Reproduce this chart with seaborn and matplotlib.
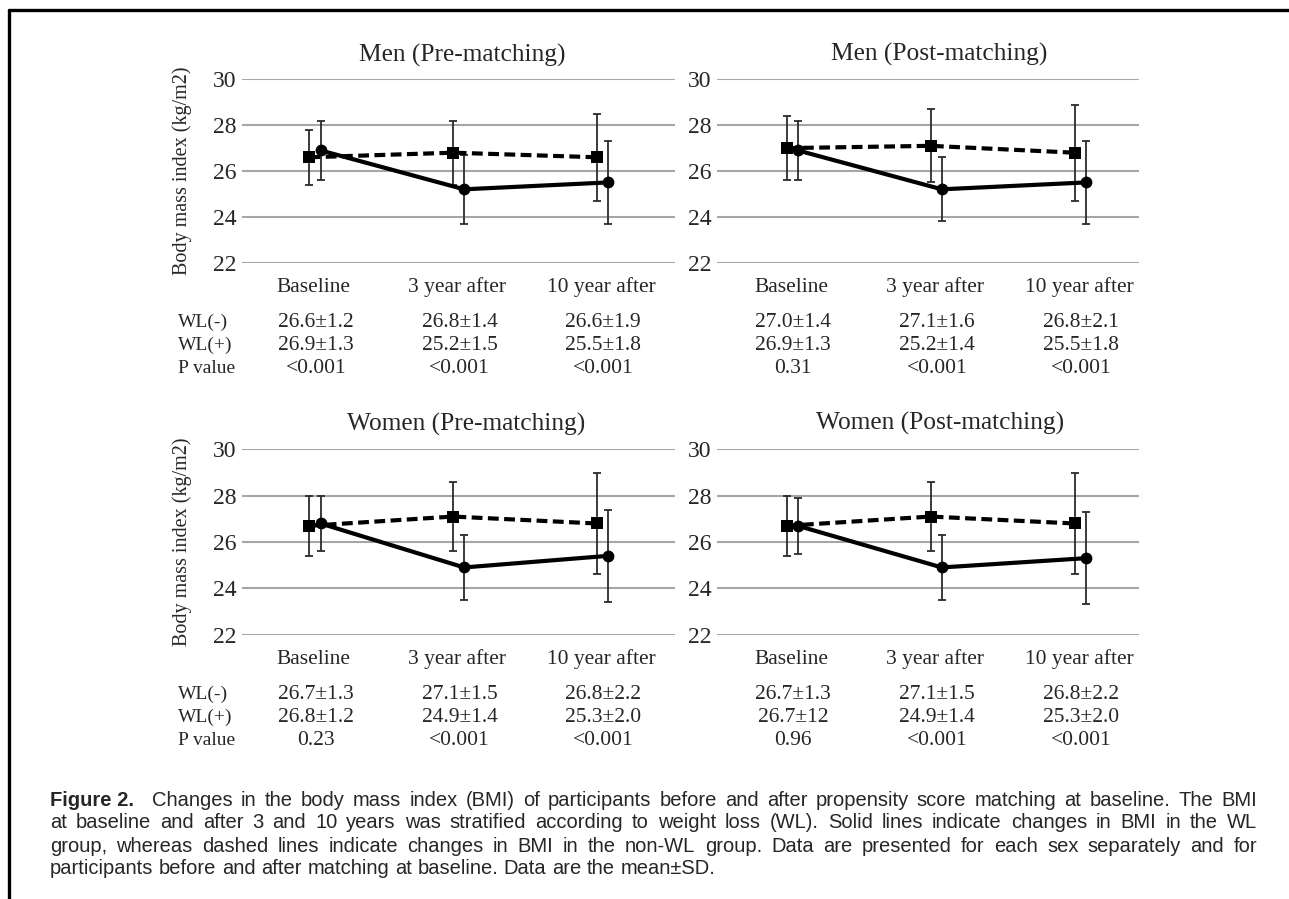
import numpy as np
import pandas as pd
import matplotlib
matplotlib.use("Agg")
import matplotlib.pyplot as plt
import seaborn as sns
from matplotlib import transforms
from matplotlib.lines import Line2D

# ---------------- data ----------------
categories = ["Baseline", "3 year after", "10 year after"]
yticks = [22, 24, 26, 28, 30]
panel_titles = ["Men (Pre-matching)", "Men (Post-matching)",
                "Women (Pre-matching)", "Women (Post-matching)"]
row_labels = ["WL(-)", "WL(+)", "P value"]

# WL(-) = dashed / squares, WL(+) = solid / circles
men_pre_neg_mean = [26.6, 26.8, 26.6]
men_pre_neg_sd = [1.2, 1.4, 1.9]
men_pre_pos_mean = [26.9, 25.2, 25.5]
men_pre_pos_sd = [1.3, 1.5, 1.8]

men_post_neg_mean = [27.0, 27.1, 26.8]
men_post_neg_sd = [1.4, 1.6, 2.1]
men_post_pos_mean = [26.9, 25.2, 25.5]
men_post_pos_sd = [1.3, 1.4, 1.8]

women_pre_neg_mean = [26.7, 27.1, 26.8]
women_pre_neg_sd = [1.3, 1.5, 2.2]
women_pre_pos_mean = [26.8, 24.9, 25.4]
women_pre_pos_sd = [1.2, 1.4, 2.0]

women_post_neg_mean = [26.7, 27.1, 26.8]
women_post_neg_sd = [1.3, 1.5, 2.2]
women_post_pos_mean = [26.7, 24.9, 25.3]
women_post_pos_sd = [1.2, 1.4, 2.0]

men_pre_table = [["26.6±1.2", "26.8±1.4", "26.6±1.9"],
                 ["26.9±1.3", "25.2±1.5", "25.5±1.8"],
                 ["<0.001", "<0.001", "<0.001"]]
men_post_table = [["27.0±1.4", "27.1±1.6", "26.8±2.1"],
                  ["26.9±1.3", "25.2±1.4", "25.5±1.8"],
                  ["0.31", "<0.001", "<0.001"]]
women_pre_table = [["26.7±1.3", "27.1±1.5", "26.8±2.2"],
                   ["26.8±1.2", "24.9±1.4", "25.3±2.0"],
                   ["0.23", "<0.001", "<0.001"]]
women_post_table = [["26.7±1.3", "27.1±1.5", "26.8±2.2"],
                    ["26.7±12", "24.9±1.4", "25.3±2.0"],
                    ["0.96", "<0.001", "<0.001"]]

caption_bold = "Figure 2."
caption_lines = [
    "Changes in the body mass index (BMI) of participants before and after propensity score matching at baseline. The BMI",
    "at baseline and after 3 and 10 years was stratified according to weight loss (WL). Solid lines indicate changes in BMI in the WL",
    "group, whereas dashed lines indicate changes in BMI in the non-WL group. Data are presented for each sex separately and for",
    "participants before and after matching at baseline. Data are the mean\u00b1SD.",
]

# ---------------- style ----------------
sns.set_theme(style="white")
SERIF = ["Liberation Serif", "DejaVu Serif"]
SANS = ["Liberation Sans", "DejaVu Sans"]
plt.rcParams["font.family"] = SERIF

W, H = 1289, 899
fig = plt.figure(figsize=(W / 100, H / 100), dpi=100)
fig.patch.set_facecolor("white")


def px_rect(x0, x1, ytop, ybot):
    return [x0 / W, 1 - ybot / H, (x1 - x0) / W, (ybot - ytop) / H]


SQ_OFF, CI_OFF = -0.03, 0.047
GRID_C = "#a6a6a6"

panels = [
    dict(rect=px_rect(242, 675, 79, 263), xlim=(-0.50, 2.516), title_xy=(462, 55),
         neg=(men_pre_neg_mean, men_pre_neg_sd), pos=(men_pre_pos_mean, men_pre_pos_sd),
         table=men_pre_table, ylabel=True, rows=True),
    dict(rect=px_rect(717, 1139, 79, 263), xlim=(-0.514, 2.417), title_xy=(939, 54),
         neg=(men_post_neg_mean, men_post_neg_sd), pos=(men_post_pos_mean, men_post_pos_sd),
         table=men_post_table, ylabel=False, rows=False),
    dict(rect=px_rect(242, 675, 449, 635), xlim=(-0.50, 2.516), title_xy=(466, 424),
         neg=(women_pre_neg_mean, women_pre_neg_sd), pos=(women_pre_pos_mean, women_pre_pos_sd),
         table=women_pre_table, ylabel=True, rows=True),
    dict(rect=px_rect(717, 1139, 449, 635), xlim=(-0.514, 2.417), title_xy=(940, 423),
         neg=(women_post_neg_mean, women_post_neg_sd), pos=(women_post_pos_mean, women_post_pos_sd),
         table=women_post_table, ylabel=False, rows=False),
]

for i, p in enumerate(panels):
    ax = fig.add_axes(p["rect"])
    ax.set_facecolor("none")
    xs = np.arange(len(categories))
    df = pd.DataFrame({
        "x": list(xs + SQ_OFF) + list(xs + CI_OFF),
        "mean": list(p["neg"][0]) + list(p["pos"][0]),
        "sd": list(p["neg"][1]) + list(p["pos"][1]),
        "group": ["WL(-)"] * 3 + ["WL(+)"] * 3,
    })
    ax.errorbar(df["x"], df["mean"], yerr=df["sd"], fmt="none", ecolor="#2b2b2b",
                elinewidth=1.3, capsize=3.2, capthick=1.3, zorder=3)
    sns.lineplot(data=df, x="x", y="mean", style="group",
                 markers={"WL(-)": "s", "WL(+)": "o"},
                 dashes={"WL(-)": (2.6, 1.3), "WL(+)": ""},
                 color="black", linewidth=3, markersize=8.5, markeredgewidth=0,
                 legend=False, ax=ax, estimator=None, sort=False, zorder=4)
    ax.set_xlim(*p["xlim"])
    ax.set_ylim(21.98, 30.02)
    ax.set_yticks(yticks)
    ax.set_yticklabels([str(t) for t in yticks], fontsize=17)
    ax.set_xticks(xs)
    ax.set_xticklabels(categories, fontsize=15.5)
    for lab in ax.get_xticklabels():
        lab.set_va("baseline")
    ax.tick_params(axis="both", length=0)
    ax.tick_params(axis="y", pad=4)
    ax.tick_params(axis="x", pad=21)
    ax.set_xlabel("")
    ax.set_ylabel("")
    for s in ax.spines.values():
        s.set_visible(False)
    ax.yaxis.grid(True, color=GRID_C, linewidth=1.5)
    ax.xaxis.grid(False)
    ax.set_axisbelow(True)

    fig.text(p["title_xy"][0] / W, 1 - p["title_xy"][1] / H, panel_titles[i],
             ha="center", va="center", fontsize=18.3)

    if p["ylabel"]:
        fig.text(182 / W, p["rect"][1] + p["rect"][3] / 2, "Body mass index (kg/m2)",
                 rotation=90, ha="center", va="center", fontsize=14.5)

    axis_bottom_px = (1 - p["rect"][1]) * H
    trans = transforms.blended_transform_factory(ax.transData, fig.transFigure)
    for r, offs in enumerate([64, 87, 110]):
        ypx = axis_bottom_px + offs
        if p["rows"]:
            fig.text(178 / W, 1 - ypx / H, row_labels[r], ha="left", va="baseline",
                     fontsize=14)
        for c in range(3):
            ax.text(xs[c] + 0.015, 1 - ypx / H, p["table"][r][c], transform=trans,
                    ha="center", va="baseline", fontsize=15.5)

# ---------------- caption (justified) ----------------
renderer = fig.canvas.get_renderer()
CAP_FS = 14.5
cap_y = [800, 823, 846, 869]
fig.text(50 / W, 1 - cap_y[0] / H, caption_bold, ha="left", va="center",
         fontsize=CAP_FS, fontweight="bold", family=["Liberation Sans Narrow"] + SANS)


def measure(s):
    t = fig.text(0, 0, s, fontsize=CAP_FS, family=SANS)
    w = t.get_window_extent(renderer).width
    t.remove()
    return w


SPACE_W = measure("a a") - measure("aa")


def justify(text, x0, x1, ypx, justify_it=True):
    words = text.split(" ")
    objs = [fig.text(0, 1 - ypx / H, w, ha="left", va="center", fontsize=CAP_FS, family=SANS)
            for w in words]
    widths = [o.get_window_extent(renderer).width for o in objs]
    total = sum(widths)
    gap = SPACE_W
    if justify_it and len(words) > 1:
        gap = max((x1 - x0 - total) / (len(words) - 1), 0.6 * SPACE_W)
    x = x0
    for o, w in zip(objs, widths):
        o.set_x(x / W)
        x += w + gap


justify(caption_lines[0], 152, 1257, cap_y[0])
justify(caption_lines[1], 50, 1257, cap_y[1])
justify(caption_lines[2], 50, 1257, cap_y[2])
justify(caption_lines[3], 50, 1257, cap_y[3], justify_it=False)

# ---------------- frame lines ----------------
fig.add_artist(Line2D([9 / W, 1.0], [1 - 10 / H, 1 - 10 / H], transform=fig.transFigure,
                      color="black", linewidth=2.4))
fig.add_artist(Line2D([9 / W, 9 / W], [0, 1 - 10 / H], transform=fig.transFigure,
                      color="black", linewidth=2.4))

fig.savefig("out.png", dpi=100, facecolor="white")
